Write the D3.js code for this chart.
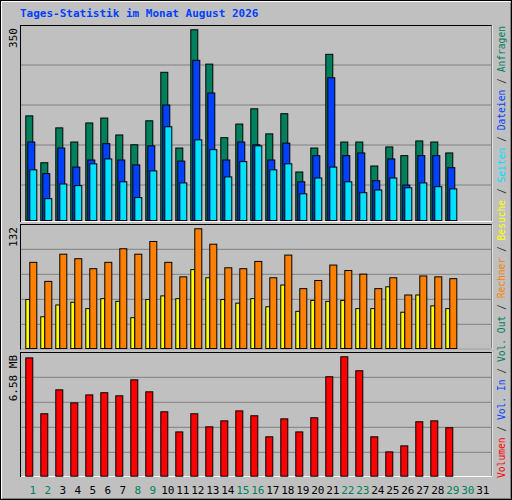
<!DOCTYPE html>
<html>
<head>
<meta charset="utf-8">
<script src="https://cdn.jsdelivr.net/npm/d3@7"></script>
<style>
  body { margin: 0; background: #fff; }
  text { font-family: "DejaVu Sans Mono", monospace; }
</style>
</head>
<body>
<div id="chart"></div>
<script>
// daily values, August 2026
const days = d3.range(1, 32);
const weekend = [1, 2, 8, 9, 15, 16, 22, 23, 29, 30];
const anfragen = [192,106,170,144,179,188,157,139,183,272,133,350,287,152,177,205,159,196,89,133,305,144,144,100,135,119,146,144,124];
const dateien  = [144,86,133,98,111,141,111,102,137,212,109,294,234,111,144,139,111,142,71,119,262,119,124,73,113,65,119,119,97];
const seiten   = [93,40,67,64,104,113,71,42,91,172,69,148,130,80,108,137,93,104,49,78,98,71,51,56,78,60,69,62,58];
const besuche  = [54,35,48,51,44,55,52,34,54,58,55,87,78,54,50,55,46,70,41,53,52,53,44,44,68,40,59,47,44];
const rechner  = [95,74,104,99,88,95,110,104,118,95,79,132,115,89,88,96,78,103,66,75,92,86,82,66,78,59,80,79,77];
const volumen  = [6.52,3.44,4.76,4.04,4.48,4.60,4.43,5.31,4.65,3.55,2.44,3.44,2.72,3.05,3.60,3.33,2.17,3.16,2.44,3.22,5.48,6.58,5.81,2.17,1.34,1.67,3.00,3.05,2.67];
const legend = [
  ["Volumen", "#ff0000"], [" / ", "#333"], ["Vol. In", "#0040ff"], [" / ", "#333"],
  ["Vol. Out", "#00805c"], [" / ", "#333"], ["Rechner", "#ff8000"], [" / ", "#333"],
  ["Besuche", "#ffff00"], [" / ", "#333"], ["Seiten", "#00e0ff"], [" / ", "#333"],
  ["Dateien", "#0040ff"], [" / ", "#333"], ["Anfragen", "#00805c"]
];

const W = 512, H = 500;
const svg = d3.select("#chart").append("svg").attr("width", W).attr("height", H);

svg.append("rect").attr("x", 0.5).attr("y", 0.5).attr("width", W - 1).attr("height", H - 1)
  .attr("fill", "#c0c0c0").attr("stroke", "#000");
svg.append("path").attr("d", "M1.5,498.5V1.5H510.5").attr("fill", "none").attr("stroke", "#fff");
svg.append("path").attr("d", "M2.5,498.5H510.5V2.5").attr("fill", "none").attr("stroke", "#808080");

svg.append("text").attr("x", 20).attr("y", 17).attr("fill", "#0040ff")
  .attr("font-size", 11).attr("font-weight", "bold").text("Tages-Statistik im Monat August 2026");

const x = d3.scaleLinear().domain([1, 31]).range([25.3, 475.3]);

const panels = [
  { top: 25, bottom: 221, grid: [65, 105, 145, 185], label: "350" },
  { top: 224, bottom: 348.5, grid: [249.3, 274.3, 299.3, 324.3], label: "132" },
  { top: 352, bottom: 476, grid: [377.3, 402.3, 427.3, 452.3], label: "6.58 MB" }
];
panels.forEach(p => {
  svg.append("rect").attr("x", 20.5).attr("y", p.top + 0.5).attr("width", 471).attr("height", p.bottom - p.top)
    .attr("fill", "#c0c0c0").attr("stroke", "#000");
  svg.append("path").attr("d", `M21,${p.bottom + 0.5}H492V${p.top + 0.5}`).attr("fill", "none").attr("stroke", "#fff");
  p.grid.forEach(g => svg.append("line").attr("x1", 21).attr("x2", 491).attr("y1", g).attr("y2", g)
    .attr("stroke", "#808080"));
  svg.append("text").attr("transform", `translate(17,${p.top + 3}) rotate(-90)`)
    .attr("text-anchor", "end").attr("font-size", 11).attr("fill", "#000").text(p.label);
});

const yTop = d3.scaleLinear().domain([0, 350]).range([220, 29.3]);
const yMid = d3.scaleLinear().domain([0, 132]).range([348, 228.3]);
const yBot = d3.scaleLinear().domain([0, 6.58]).range([475.7, 356.3]);

function bars(data, y, dx, w, color) {
  svg.append("g").selectAll("rect").data(data).join("rect")
    .attr("x", (d, i) => x(i + 1) + dx + 0.5)
    .attr("y", d => y(d) + 0.5)
    .attr("width", w)
    .attr("height", d => y(0) - y(d))
    .attr("fill", color).attr("stroke", "#000");
}
bars(anfragen, yTop, 0, 7, "#00805c");
bars(dateien, yTop, 2, 7, "#0040ff");
bars(seiten, yTop, 4, 7, "#00e0ff");
bars(besuche, yMid, 0, 4, "#ffff00");
bars(rechner, yMid, 4, 7, "#ff8000");
bars(volumen, yBot, 0, 7, "#ff0000");

svg.append("g").selectAll("text").data(days).join("text")
  .attr("x", d => x(d) + 7.5).attr("y", 494).attr("text-anchor", "middle").attr("font-size", 11)
  .attr("fill", d => weekend.includes(d) ? "#00805c" : "#000").text(d => d);

const leg = svg.append("text").attr("transform", "translate(505,478) rotate(-90)")
  .attr("font-size", 10).attr("textLength", 452).attr("lengthAdjust", "spacingAndGlyphs")
  .attr("xml:space", "preserve").style("white-space", "pre");
leg.selectAll("tspan").data(legend).join("tspan").attr("fill", d => d[1]).text(d => d[0]);
</script>
</body>
</html>
